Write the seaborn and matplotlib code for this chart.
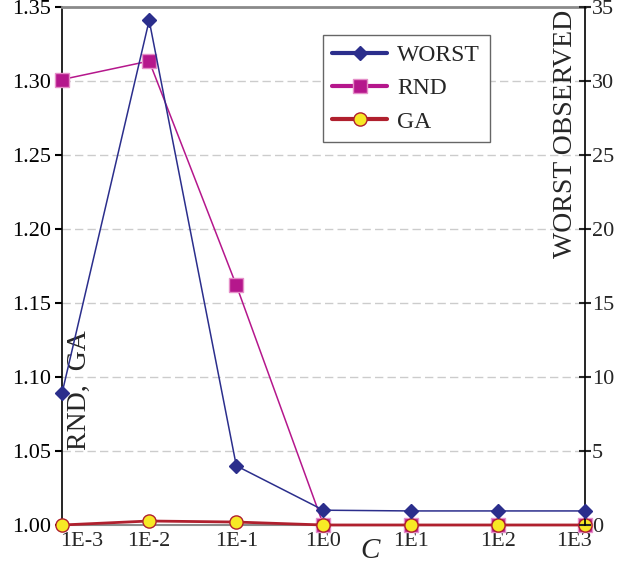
import matplotlib
matplotlib.use("Agg")
import matplotlib.pyplot as plt
import matplotlib.transforms as mtransforms
import seaborn as sns
import pandas as pd

# Penalty parameter C and the three measured series
c_labels = ["1E-3", "1E-2", "1E-1", "1E0", "1E1", "1E2", "1E3"]
worst = [8.9, 34.1, 4.0, 1.0, 0.95, 0.95, 0.95]          # right axis
rnd = [1.301, 1.3135, 1.162, 1.0, 1.0, 1.0, 1.0]          # left axis
ga = [1.0, 1.0027, 1.002, 1.0, 1.0, 1.0, 1.0]             # left axis

left_ticks = [1.00, 1.05, 1.10, 1.15, 1.20, 1.25, 1.30, 1.35]
right_ticks = [0, 5, 10, 15, 20, 25, 30, 35]

df = pd.DataFrame({"C": c_labels, "WORST": worst, "RND": rnd, "GA": ga})

sns.set_style("white")
plt.rcParams["font.family"] = ["Liberation Serif", "DejaVu Serif"]

NAVY = "#2b2e8c"
MAGENTA = "#b5178c"
RED = "#b0202e"
YELLOW = "#f7e925"

fig = plt.figure(figsize=(6.2, 5.63), dpi=100)
ax = fig.add_axes([0.1, 0.0675, 0.8435, 0.92])
ax2 = ax.twinx()

sns.lineplot(data=df, x="C", y="RND", ax=ax, sort=False, color=MAGENTA, lw=1.1,
             marker="s", ms=10, mfc=MAGENTA, mec="#e58fc8", mew=1,
             clip_on=False, label="RND", legend=False, zorder=3)
sns.lineplot(data=df, x="C", y="GA", ax=ax, sort=False, color=RED, lw=2,
             marker="o", ms=9.5, mfc=YELLOW, mec=RED, mew=1,
             clip_on=False, label="GA", legend=False, zorder=4)
sns.lineplot(data=df, x="C", y="WORST", ax=ax2, sort=False, color=NAVY, lw=1.1,
             marker="D", ms=7.5, mfc=NAVY, mec=NAVY, mew=1,
             clip_on=False, label="WORST", legend=False, zorder=3)

ax.set_xlim(0, len(c_labels) - 1)
ax.set_ylim(left_ticks[0], left_ticks[-1])
ax2.set_ylim(right_ticks[0], right_ticks[-1])
ax.set_xticks(range(len(c_labels)))
ax.set_xticklabels(c_labels)
ax.set_yticks(left_ticks)
ax.set_yticklabels([f"{v:.2f}" for v in left_ticks])
ax2.set_yticks(right_ticks)
ax2.set_yticklabels([str(v) for v in right_ticks])
ax.set_xlabel("")
ax.set_ylabel("")
ax2.set_ylabel("")

ax.yaxis.grid(True, linestyle=(0, (6, 3)), color="#cccccc", lw=1)
ax.set_axisbelow(True)

for a in (ax, ax2):
    for s in a.spines.values():
        s.set_visible(False)
ax.spines["left"].set_visible(True)
ax.spines["left"].set_color("black")
ax.spines["left"].set_linewidth(1.2)
ax.spines["top"].set_visible(True)
ax.spines["top"].set_color("#8a8a8a")
ax.spines["top"].set_linewidth(2)
ax.spines["bottom"].set_visible(True)
ax.spines["bottom"].set_color("#8a8a8a")
ax.spines["bottom"].set_linewidth(1.5)
ax2.spines["right"].set_visible(True)
ax2.spines["right"].set_color("black")
ax2.spines["right"].set_linewidth(1.2)

ax.tick_params(axis="y", direction="out", length=5, width=1.5, labelsize=16,
               pad=3, left=True, colors="black")
ax.tick_params(axis="x", length=0, labelsize=16, pad=5)
ax2.tick_params(axis="y", direction="inout", length=8, width=1.5, labelsize=16,
                pad=1, right=True)

# keep the outermost category labels inside the plot width
xt = ax.get_xticklabels()
xt[0].set_horizontalalignment("left")
xt[0].set_transform(xt[0].get_transform() +
                    mtransforms.ScaledTranslation(-2 / 100, 0, fig.dpi_scale_trans))
xt[-1].set_horizontalalignment("right")
xt[-1].set_transform(xt[-1].get_transform() +
                     mtransforms.ScaledTranslation(7 / 100, 0, fig.dpi_scale_trans))

ax.text(0.034, 0.26, "RND,  GA", rotation=90, transform=ax.transAxes,
        ha="center", va="center", fontsize=20)
ax2.text(0.962, 0.755, "WORST OBSERVED", rotation=90, transform=ax2.transAxes,
         ha="center", va="center", fontsize=20)
fig.text(370 / 620, 1 - 551 / 563, "C", ha="center", va="center",
         fontsize=21, fontstyle="italic")

h1, l1 = ax2.get_legend_handles_labels()
h2, l2 = ax.get_legend_handles_labels()
leg = ax2.legend(h1 + h2, l1 + l2, loc="upper left",
                 bbox_to_anchor=(0.499, 0.946), borderaxespad=0, fontsize=17,
                 handlelength=2.3, handletextpad=0.45, labelspacing=0.5,
                 borderpad=0.4, frameon=True, fancybox=False, framealpha=1)
leg.get_frame().set_edgecolor("#666666")
leg.get_frame().set_linewidth(1)
for line in leg.get_lines():
    line.set_linewidth(3)

fig.savefig("out.png", dpi=100)
